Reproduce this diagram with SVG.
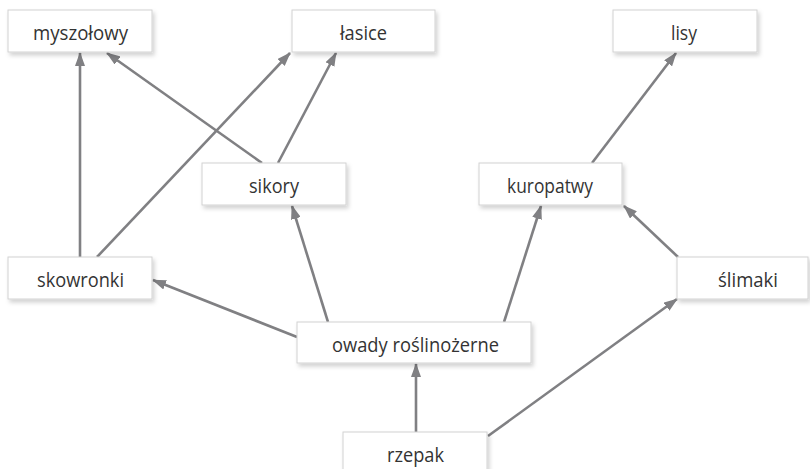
<svg xmlns="http://www.w3.org/2000/svg" width="810" height="469" viewBox="0 0 810 469">
<defs>
<style>
.box{fill:#fff;stroke:#d2d2d2;stroke-width:1;filter:url(#sh)}
.lbl{font-family:"Open Sans","DejaVu Sans",sans-serif;font-size:20.5px;fill:#333;text-anchor:middle}
.edge{stroke:#808083;stroke-width:2.6;fill:none;marker-end:url(#ah)}
</style>
<filter id="sh" x="-10%" y="-20%" width="130%" height="150%">
<feDropShadow dx="2" dy="3" stdDeviation="2" flood-color="#000" flood-opacity="0.18"/>
</filter>
<marker id="ah" viewBox="0 0 14 10" refX="13" refY="5" markerWidth="14" markerHeight="10" markerUnits="userSpaceOnUse" orient="auto">
<path d="M0,0 L14,5 L0,10 Z" fill="#808083"/>
</marker>
</defs>
<g id="connectors">
<line class="edge" x1="80" y1="257" x2="80" y2="53"/>
<line class="edge" x1="262" y1="163" x2="107" y2="53"/>
<line class="edge" x1="97" y1="257" x2="290" y2="53"/>
<line class="edge" x1="278" y1="163" x2="336" y2="53"/>
<line class="edge" x1="592" y1="163" x2="676" y2="53"/>
<line class="edge" x1="328" y1="322" x2="292" y2="206"/>
<line class="edge" x1="297" y1="337" x2="153" y2="280"/>
<line class="edge" x1="504" y1="322" x2="541" y2="206"/>
<line class="edge" x1="678" y1="257" x2="624" y2="206"/>
<line class="edge" x1="416" y1="432" x2="416" y2="364"/>
<line class="edge" x1="488" y1="436" x2="677" y2="299"/>
</g>
<g id="myszolowy"><rect class="box" x="8" y="10" width="144" height="42"/><text class="lbl" x="80.5" y="40" textLength="95" lengthAdjust="spacingAndGlyphs">myszołowy</text></g>
<g id="lasice"><rect class="box" x="292" y="10" width="143" height="42"/><text class="lbl" x="363.5" y="40" textLength="47" lengthAdjust="spacingAndGlyphs">łasice</text></g>
<g id="lisy"><rect class="box" x="613" y="10" width="144" height="42"/><text class="lbl" x="684" y="40" textLength="26" lengthAdjust="spacingAndGlyphs">lisy</text></g>
<g id="sikory"><rect class="box" x="202" y="163" width="144" height="42"/><text class="lbl" x="274" y="193" textLength="50" lengthAdjust="spacingAndGlyphs">sikory</text></g>
<g id="kuropatwy"><rect class="box" x="479" y="163" width="143" height="42"/><text class="lbl" x="550" y="193" textLength="86" lengthAdjust="spacingAndGlyphs">kuropatwy</text></g>
<g id="skowronki"><rect class="box" x="8" y="257" width="144" height="42"/><text class="lbl" x="80.5" y="287" textLength="87" lengthAdjust="spacingAndGlyphs">skowronki</text></g>
<g id="slimaki"><rect class="box" x="677" y="257" width="131" height="42"/><text class="lbl" x="748" y="287" textLength="60" lengthAdjust="spacingAndGlyphs">ślimaki</text></g>
<g id="owady"><rect class="box" x="297" y="322" width="234" height="41"/><text class="lbl" x="415.5" y="352" textLength="167" lengthAdjust="spacingAndGlyphs">owady roślinożerne</text></g>
<g id="rzepak"><rect class="box" x="343" y="432" width="144" height="42"/><text class="lbl" x="415.5" y="462" textLength="57" lengthAdjust="spacingAndGlyphs">rzepak</text></g>
</svg>
